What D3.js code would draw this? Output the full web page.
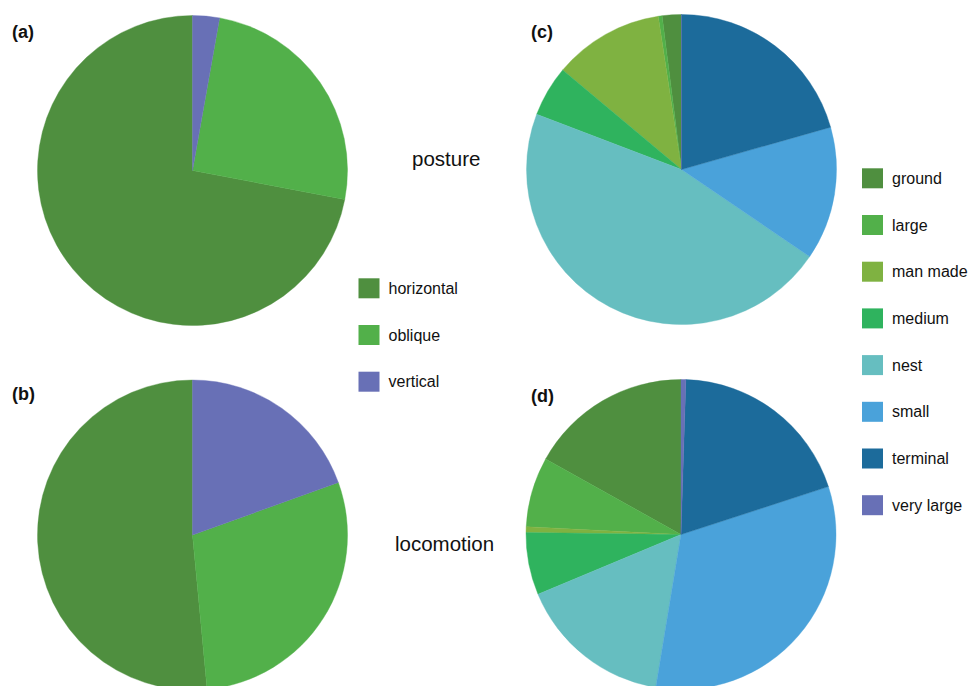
<!DOCTYPE html>
<html>
<head>
<meta charset="utf-8">
<script src="https://cdn.jsdelivr.net/npm/d3@7"></script>
<style>
  html, body { margin: 0; padding: 0; background: #fff; }
  svg { display: block; font-family: "Liberation Sans", Arial, sans-serif; }
</style>
</head>
<body>
<svg id="chart" width="972" height="686"></svg>
<script>
// ---- data ----
const postureCategories = ["horizontal", "oblique", "vertical"];
const substrateCategories = ["ground", "large", "man made", "medium", "nest", "small", "terminal", "very large"];

const postureA = [72.0, 25.2, 2.8];      // (a) posture
const locomotionB = [51.5, 29.0, 19.5];  // (b) locomotion
const postureC = [2.0, 0.4, 11.5, 5.3, 46.3, 13.9, 20.6, 0.0];  // (c)
const locomotionD = [16.9, 7.3, 0.6, 6.5, 16.1, 32.6, 19.5, 0.5]; // (d)

const panelLabels = ["(a)", "(b)", "(c)", "(d)"];
const rowLabels = ["posture", "locomotion"];

// ---- colours ----
const postureColor = d3.scaleOrdinal()
  .domain(postureCategories)
  .range(["#4f8f3f", "#52b04a", "#6870b6"]);
const substrateColor = d3.scaleOrdinal()
  .domain(substrateCategories)
  .range(["#4f8f3f", "#52b04a", "#7fb241", "#2fb35e", "#66bec0", "#4aa2da", "#1c6b9b", "#6870b6"]);

const svg = d3.select("#chart");
const R = 155;

// pies drawn counter-clockwise from 12 o'clock
const pie = d3.pie().sort(null).startAngle(0).endAngle(-2 * Math.PI);
const arc = d3.arc().innerRadius(0).outerRadius(R);

function drawPie(cx, cy, cats, vals, color) {
  const data = cats.map((c, i) => ({ cat: c, v: vals[i] }));
  const g = svg.append("g").attr("transform", `translate(${cx},${cy})`);
  g.selectAll("path")
    .data(pie.value(d => d.v)(data))
    .join("path")
    .attr("d", arc)
    .attr("fill", d => color(d.data.cat))
    .attr("stroke", d => color(d.data.cat))
    .attr("stroke-width", 0.4);
}

drawPie(192.5, 170.5, postureCategories, postureA, postureColor);
drawPie(192.5, 535, postureCategories, locomotionB, postureColor);
drawPie(681.5, 169.5, substrateCategories, postureC, substrateColor);
drawPie(681, 534.5, substrateCategories, locomotionD, substrateColor);

// panel labels
const panelPos = [[12, 38], [12, 400], [531, 38], [531, 402]];
svg.selectAll("text.panel")
  .data(panelLabels)
  .join("text")
  .attr("class", "panel")
  .attr("x", (d, i) => panelPos[i][0])
  .attr("y", (d, i) => panelPos[i][1])
  .attr("font-size", 18)
  .attr("font-weight", "bold")
  .attr("fill", "#111")
  .text(d => d);

// row labels
const rowPos = [[412, 166], [395, 551]];
svg.selectAll("text.row")
  .data(rowLabels)
  .join("text")
  .attr("class", "row")
  .attr("x", (d, i) => rowPos[i][0])
  .attr("y", (d, i) => rowPos[i][1])
  .attr("font-size", 20.5)
  .attr("fill", "#111")
  .text(d => d);

// legends
function drawLegend(x, y, cats, color) {
  const g = svg.append("g").attr("transform", `translate(${x},${y})`);
  const items = g.selectAll("g").data(cats).join("g")
    .attr("transform", (d, i) => `translate(0,${i * 46.7})`);
  items.append("rect")
    .attr("width", 21).attr("height", 20)
    .attr("fill", d => color(d));
  items.append("text")
    .attr("x", 30).attr("y", 15.5)
    .attr("font-size", 16)
    .attr("fill", "#111")
    .text(d => d);
}
drawLegend(358.5, 278.3, postureCategories, postureColor);
drawLegend(862, 168.3, substrateCategories, substrateColor);
</script>
</body>
</html>
